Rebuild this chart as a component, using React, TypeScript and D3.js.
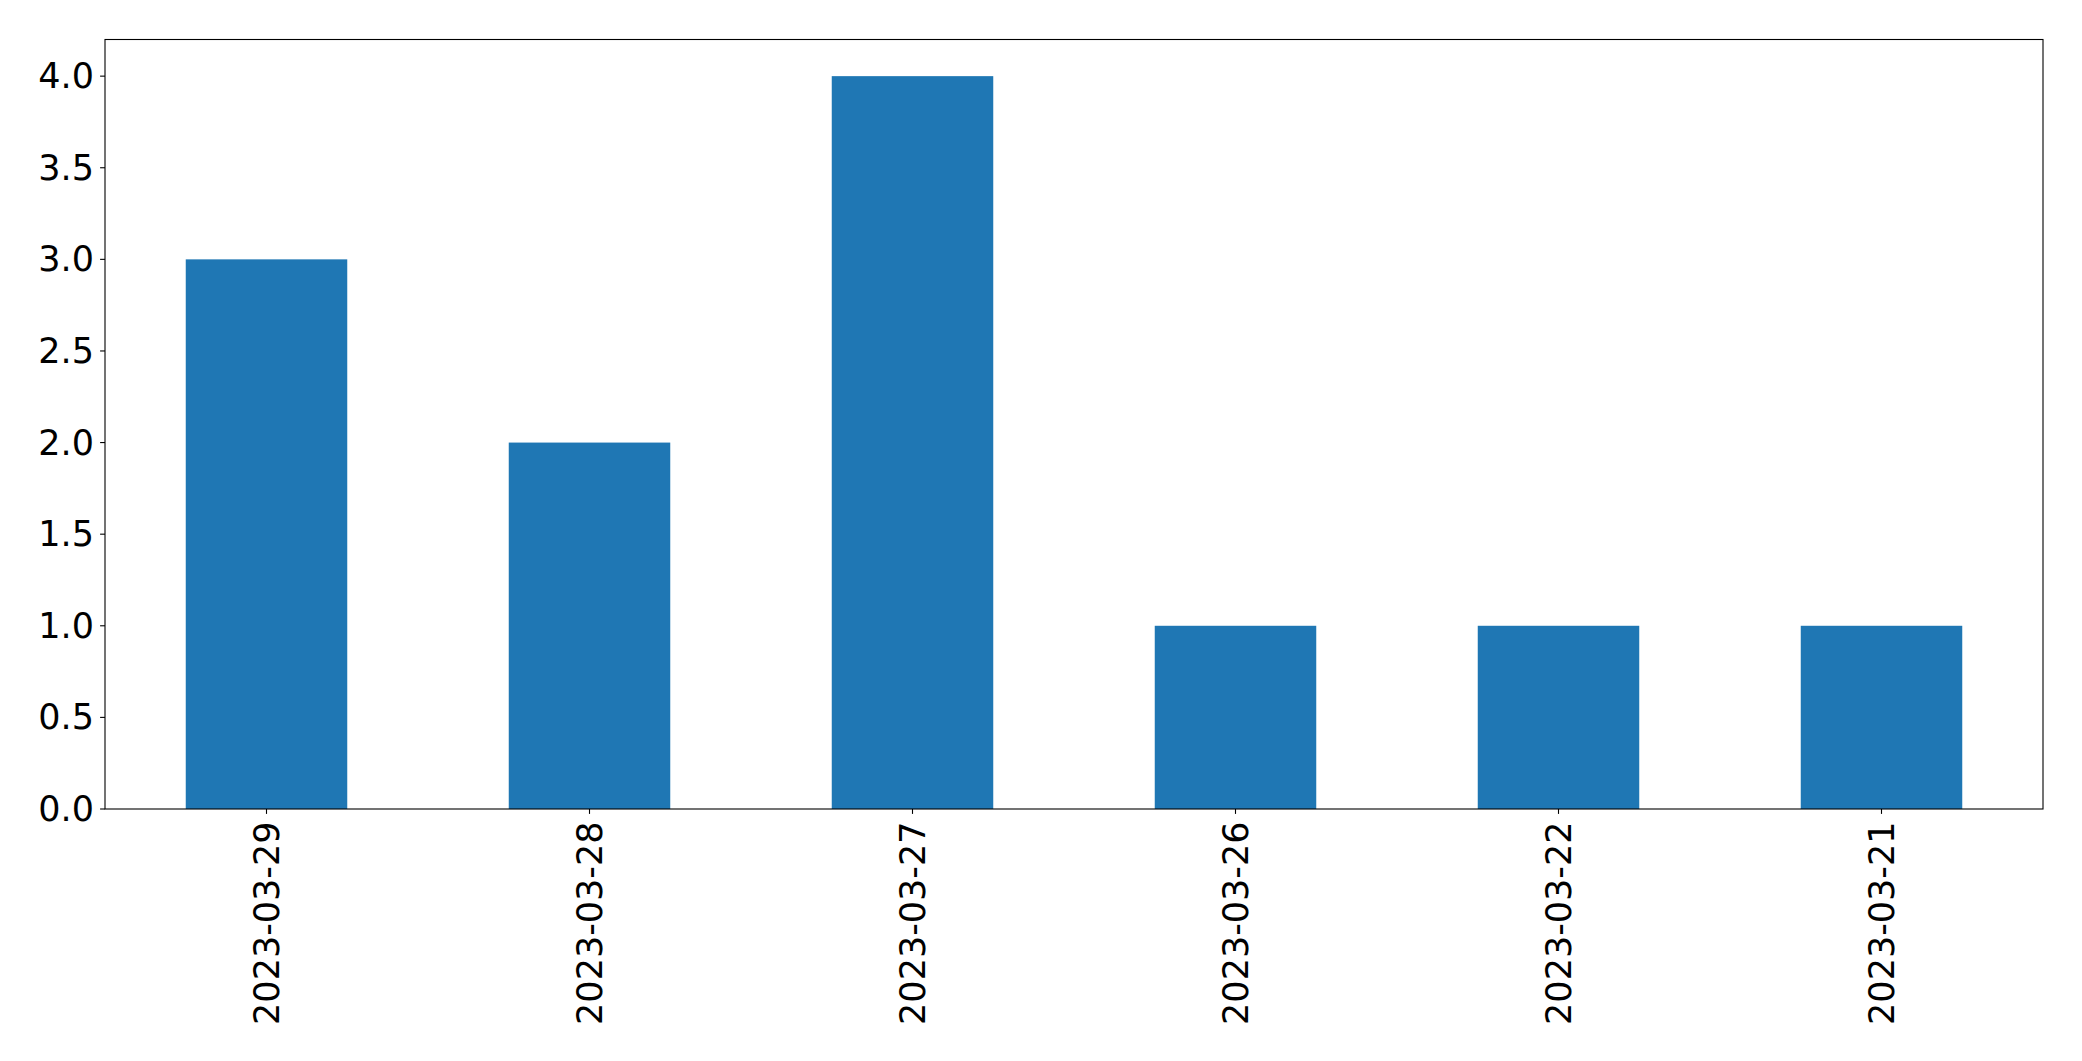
import React from "react";
import * as d3 from "d3";

const categories: string[] = ["2023-03-29", "2023-03-28", "2023-03-27", "2023-03-26", "2023-03-22", "2023-03-21"];
const values: number[] = [3, 2, 4, 1, 1, 1];
const yTicks: number[] = [0, 0.5, 1, 1.5, 2, 2.5, 3, 3.5, 4];

const W = 2082;
const H = 1061;
const margin = { left: 105, right: 2043, top: 39.5, bottom: 809 };
const FONT = "'DejaVu Sans', sans-serif";
const FS = 35;

export default function App() {
  const x = d3
    .scaleBand<string>()
    .domain(categories)
    .range([margin.left, margin.right])
    .paddingInner(0.5)
    .paddingOuter(0.25);
  const y = d3.scaleLinear().domain([0, 4.2]).range([margin.bottom, margin.top]);
  const fmt = d3.format(".1f");

  return (
    <div style={{ position: "absolute", left: 0, top: 0, margin: 0 }}>
      <svg width={W} height={H} style={{ display: "block", background: "#fff" }}>
        <rect x={0} y={0} width={W} height={H} fill="#fff" />
        {categories.map((c, i) => (
          <rect
            key={c}
            x={x(c)!}
            y={y(values[i])}
            width={x.bandwidth()}
            height={y(0) - y(values[i])}
            fill="#1f77b4"
          />
        ))}
        <rect
          x={margin.left}
          y={margin.top}
          width={margin.right - margin.left}
          height={margin.bottom - margin.top}
          fill="none"
          stroke="#000"
          strokeWidth={1.1}
        />
        {yTicks.map((t) => (
          <g key={t}>
            <line x1={margin.left - 4.9} x2={margin.left} y1={y(t)} y2={y(t)} stroke="#000" strokeWidth={1.1} />
            <text
              x={margin.left - 11}
              y={y(t)}
              textAnchor="end"
              dominantBaseline="central"
              fontFamily={FONT}
              fontSize={FS}
              fill="#000"
            >
              {fmt(t)}
            </text>
          </g>
        ))}
        {categories.map((c) => {
          const cx = x(c)! + x.bandwidth() / 2;
          return (
            <g key={c}>
              <line x1={cx} x2={cx} y1={margin.bottom} y2={margin.bottom + 4.9} stroke="#000" strokeWidth={1.1} />
              <text
                transform={`translate(${cx},${margin.bottom + 12.5}) rotate(-90)`}
                textAnchor="end"
                dominantBaseline="central"
                fontFamily={FONT}
                fontSize={FS}
                fill="#000"
              >
                {c}
              </text>
            </g>
          );
        })}
      </svg>
    </div>
  );
}
